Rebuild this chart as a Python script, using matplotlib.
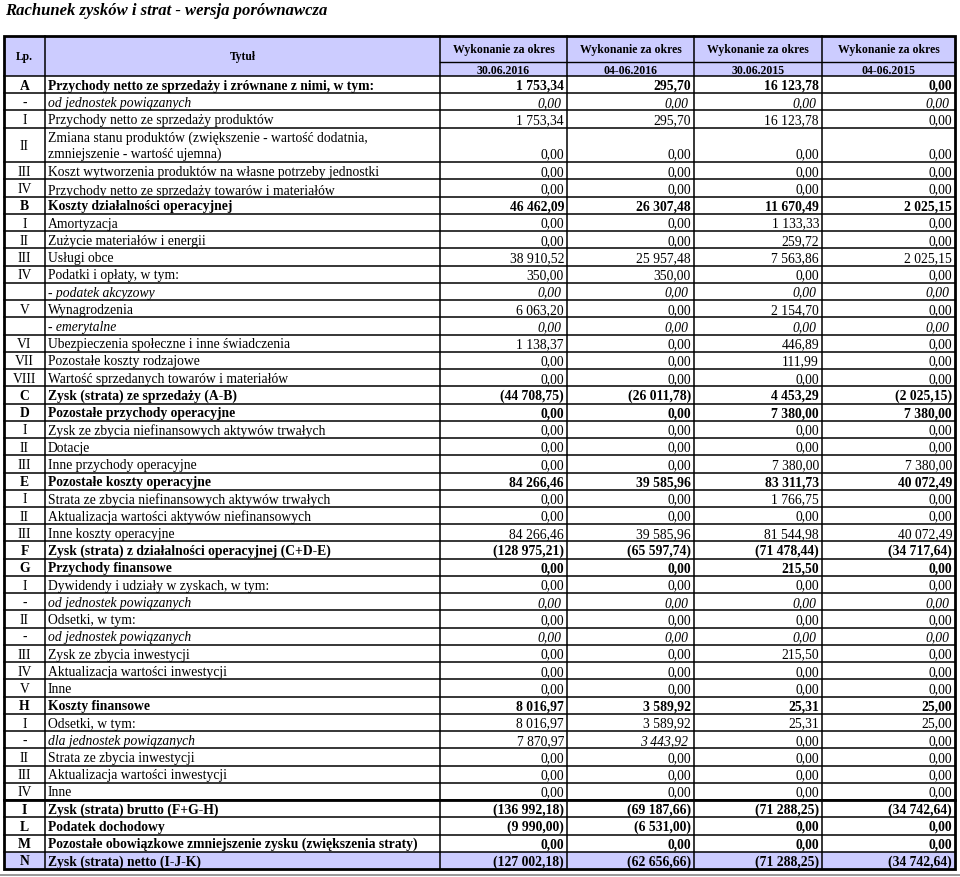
import matplotlib.pyplot as plt
from matplotlib.patches import Rectangle
from matplotlib.transforms import Bbox

plt.rcParams['font.family'] = ['Liberation Serif', 'DejaVu Serif']

# --- data -------------------------------------------------------------
lp = ["A", "-", "I", "II", "III", "IV",
      "B", "I", "II", "III", "IV", "", "V", "", "VI", "VII", "VIII",
      "C", "D", "I", "II", "III", "E", "I", "II", "III", "F",
      "G", "I", "-", "II", "-", "III", "IV", "V",
      "H", "I", "-", "II", "III", "IV", "I", "L", "M", "N"]

titles = [
    "Przychody netto ze sprzedaży i zrównane z nimi, w tym:",
    "od jednostek powiązanych",
    "Przychody netto ze sprzedaży produktów",
    "Zmiana stanu produktów (zwiększenie - wartość dodatnia,\nzmniejszenie - wartość ujemna)",
    "Koszt wytworzenia produktów na własne potrzeby jednostki",
    "Przychody netto ze sprzedaży towarów i materiałów",
    "Koszty działalności operacyjnej",
    "Amortyzacja",
    "Zużycie materiałów i energii",
    "Usługi obce",
    "Podatki i opłaty, w tym:",
    "- podatek akcyzowy",
    "Wynagrodzenia",
    "- emerytalne",
    "Ubezpieczenia społeczne i inne świadczenia",
    "Pozostałe koszty rodzajowe",
    "Wartość sprzedanych towarów i materiałów",
    "Zysk (strata) ze sprzedaży (A-B)",
    "Pozostałe przychody operacyjne",
    "Zysk ze zbycia niefinansowych aktywów trwałych",
    "Dotacje",
    "Inne przychody operacyjne",
    "Pozostałe koszty operacyjne",
    "Strata ze zbycia niefinansowych aktywów trwałych",
    "Aktualizacja wartości aktywów niefinansowych",
    "Inne koszty operacyjne",
    "Zysk (strata) z działalności operacyjnej (C+D-E)",
    "Przychody finansowe",
    "Dywidendy i udziały w zyskach, w tym:",
    "od jednostek powiązanych",
    "Odsetki, w tym:",
    "od jednostek powiązanych",
    "Zysk ze zbycia inwestycji",
    "Aktualizacja wartości inwestycji",
    "Inne",
    "Koszty finansowe",
    "Odsetki, w tym:",
    "dla jednostek powiązanych",
    "Strata ze zbycia inwestycji",
    "Aktualizacja wartości inwestycji",
    "Inne",
    "Zysk (strata) brutto (F+G-H)",
    "Podatek dochodowy",
    "Pozostałe obowiązkowe zmniejszenie zysku (zwiększenia straty)",
    "Zysk (strata) netto (I-J-K)",
]

# b = bold, i = italic, n = normal
styles = list("binnnn" "bnnnnininnn" "bbnnnbnnnb" "bnininnn" "bninnn" "bbbb")

col_head = ["Wykonanie za okres"] * 4
periods = ["30.06.2016", "04-06.2016", "30.06.2015", "04-06.2015"]

v_2016 = [1753.34, 0, 1753.34, 0, 0, 0,
          46462.09, 0, 0, 38910.52, 350.00, 0, 6063.20, 0, 1138.37, 0, 0,
          -44708.75, 0, 0, 0, 0, 84266.46, 0, 0, 84266.46, -128975.21,
          0, 0, 0, 0, 0, 0, 0, 0,
          8016.97, 8016.97, 7870.97, 0, 0, 0, -136992.18, -9990.00, 0, -127002.18]
v_2016q = [295.70, 0, 295.70, 0, 0, 0,
           26307.48, 0, 0, 25957.48, 350.00, 0, 0, 0, 0, 0, 0,
           -26011.78, 0, 0, 0, 0, 39585.96, 0, 0, 39585.96, -65597.74,
           0, 0, 0, 0, 0, 0, 0, 0,
           3589.92, 3589.92, 3443.92, 0, 0, 0, -69187.66, -6531.00, 0, -62656.66]
v_2015 = [16123.78, 0, 16123.78, 0, 0, 0,
          11670.49, 1133.33, 259.72, 7563.86, 0, 0, 2154.70, 0, 446.89, 111.99, 0,
          4453.29, 7380.00, 0, 0, 7380.00, 83311.73, 1766.75, 0, 81544.98, -71478.44,
          215.50, 0, 0, 0, 0, 215.50, 0, 0,
          25.31, 25.31, 0, 0, 0, 0, -71288.25, 0, 0, -71288.25]
v_2015q = [0, 0, 0, 0, 0, 0,
           2025.15, 0, 0, 2025.15, 0, 0, 0, 0, 0, 0, 0,
           -2025.15, 7380.00, 0, 0, 7380.00, 40072.49, 0, 0, 40072.49, -34717.64,
           0, 0, 0, 0, 0, 0, 0, 0,
           25.00, 25.00, 0, 0, 0, 0, -34742.64, 0, 0, -34742.64]
columns = [v_2016, v_2016q, v_2015, v_2015q]

# the "dla jednostek powiązanych" row mixes styles in the source
cell_style = {(37, 0): "n", (37, 1): "i", (37, 2): "n", (37, 3): "n"}


def fmt(v):
    s = f"{abs(v):,.2f}".replace(",", " ").replace(".", ",")
    return f"({s})" if v < 0 else s


# --- layout -----------------------------------------------------------
W, H = 960, 878
xs = [4, 45, 440, 567, 694, 822, 955]
top, mid, hdr = 37, 63, 77
unit = 17.24
lav = "#ccccff"
fs = 9.8

fig = plt.figure(figsize=(W / 100, H / 100), dpi=100)
ax = fig.add_axes([0, 0, 1, 1])
ax.set_xlim(0, W)
ax.set_ylim(H, 0)
ax.axis("off")

ax.text(5, 11, "Rachunek zysków i strat - wersja porównawcza", fontsize=12,
        fontweight="bold", fontstyle="italic", va="center", ha="left")

# header
ax.add_patch(Rectangle((xs[0], top), xs[-1] - xs[0], hdr - top, facecolor=lav,
                       edgecolor="none"))
ax.text((xs[0] + xs[1]) / 2, (top + hdr) / 2, "Lp.", fontsize=8.3, fontweight="bold",
        ha="center", va="center")
ax.text((xs[1] + xs[2]) / 2, (top + hdr) / 2, "Tytuł", fontsize=8.3, fontweight="bold",
        ha="center", va="center")
for j in range(4):
    cx = (xs[j + 2] + xs[j + 3]) / 2
    ax.text(cx, (top + mid) / 2 + 0.5, col_head[j], fontsize=8.5, fontweight="bold",
            ha="center", va="center")
    ax.text(cx, (mid + hdr) / 2 + 0.5, periods[j], fontsize=8.5, fontweight="bold",
            ha="center", va="center")
ax.plot([xs[2], xs[-1]], [mid, mid], color="black", lw=1)

# body rows
y = hdr
row_edges = [hdr]
for i, t in enumerate(titles):
    h = unit * (2 if "\n" in t else 1)
    st = styles[i]
    if i == len(titles) - 1:
        ax.add_patch(Rectangle((xs[0], y), xs[-1] - xs[0], h, facecolor=lav,
                               edgecolor="none"))
    weight = "bold" if st == "b" else "normal"
    tstyle = "italic" if st == "i" else "normal"
    cy = y + h / 2
    ax.text((xs[0] + xs[1]) / 2, cy + 0.5, lp[i], fontsize=fs,
            fontweight="bold" if st == "b" else "normal", ha="center", va="center")
    txt = ax.text(xs[1] + 3, cy + 0.5, t, fontsize=fs, fontweight=weight, fontstyle=tstyle,
                  ha="left", va="center", linespacing=1.3)
    if i == 5:
        # text of this row is cut off by the next border in the source
        p0 = ax.transData.transform((xs[1], y))
        p1 = ax.transData.transform((xs[2], y + h - 1))
        txt.set_position((xs[1] + 3, cy + 2.5))
        txt.set_clip_box(Bbox.from_extents(min(p0[0], p1[0]), min(p0[1], p1[1]),
                                           max(p0[0], p1[0]), max(p0[1], p1[1])))
        txt.set_clip_on(True)
    vy = y + h - unit / 2
    for j, col in enumerate(columns):
        cst = cell_style.get((i, j), st)
        it = cst == "i"
        ax.text(xs[j + 3] - (6 if it else 3), vy + 0.5, fmt(col[i]), fontsize=fs,
                fontweight="bold" if cst == "b" else "normal",
                fontstyle="italic" if it else "normal", ha="right", va="center")
    y += h
    row_edges.append(y)

# grid
for e in row_edges[:-1]:
    ax.plot([xs[0], xs[-1]], [e, e], color="black", lw=1.1)
ax.plot([xs[0], xs[-1]], [row_edges[41], row_edges[41]], color="black", lw=2)
for x in xs[1:-1]:
    ax.plot([x, x], [top, row_edges[-1]], color="black", lw=1.1)
ax.add_patch(Rectangle((xs[0], top), xs[-1] - xs[0], row_edges[-1] - top,
                       facecolor="none", edgecolor="black", lw=2))
ax.plot([0, W], [row_edges[-1] + 6, row_edges[-1] + 6], color="#888888", lw=1.2)

fig.savefig("out.png", dpi=100, facecolor="white")
